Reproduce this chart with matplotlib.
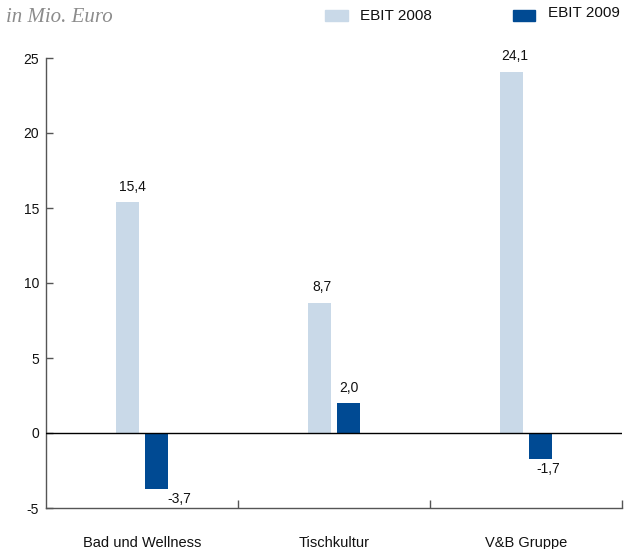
import numpy as np
import matplotlib
matplotlib.use('Agg')
import matplotlib.pyplot as plt
from matplotlib.patches import Rectangle

# EBIT by segment, in Mio. Euro
categories = ['Bad und Wellness', 'Tischkultur', 'V&B Gruppe']
ebit_2008 = [15.4, 8.7, 24.1]
ebit_2009 = [-3.7, 2.0, -1.7]
series_names = ['EBIT 2008', 'EBIT 2009']
y_ticks = [-5, 0, 5, 10, 15, 20, 25]

LIGHT = '#c9d9e8'
DARK = '#004a93'
AXIS_GREY = '#555555'

plt.rcParams['font.family'] = ['Liberation Sans', 'DejaVu Sans']
plt.rcParams['text.color'] = '#111111'
plt.rcParams['ytick.labelcolor'] = '#111111'
plt.rcParams['xtick.labelcolor'] = '#111111'

def fmt(v):
    return f"{v:.1f}".replace('.', ',')

fig = plt.figure(figsize=(6.29, 5.49), dpi=100)
ax = fig.add_axes([46/629, 1 - 508/549, 576/629, 450/549])

x = np.arange(len(categories))
w = 0.12
off = 0.076
bars08 = ax.bar(x - off, ebit_2008, w, color=LIGHT, zorder=2)
bars09 = ax.bar(x + off, ebit_2009, w, color=DARK, zorder=2)

ax.axhline(0, color='black', lw=1.0, zorder=3)

ax.set_xlim(-0.5, 2.5)
ax.set_ylim(-5, 25)

# value labels (small per-label nudges in px, as in the original)
nudge08 = [5.5, 3, 3.5]
nudge09 = [22.5, 0, 8]
for i, v in enumerate(ebit_2008):
    ax.annotate(fmt(v), (x[i] - off, v), xytext=(nudge08[i] * 0.72, 6),
                textcoords='offset points', ha='center', va='bottom', fontsize=10)
for i, v in enumerate(ebit_2009):
    if v >= 0:
        ax.annotate(fmt(v), (x[i] + off, v), xytext=(nudge09[i] * 0.72, 6),
                    textcoords='offset points', ha='center', va='bottom', fontsize=10)
    else:
        ax.annotate(fmt(v), (x[i] + off, v), xytext=(nudge09[i] * 0.72, -2.5),
                    textcoords='offset points', ha='center', va='top', fontsize=10)

# spines and ticks
for s in ['top', 'right']:
    ax.spines[s].set_visible(False)
for s in ['left', 'bottom']:
    ax.spines[s].set_color(AXIS_GREY)
    ax.spines[s].set_linewidth(1.0)

ax.set_yticks(y_ticks)
ax.set_yticklabels([str(t) for t in y_ticks])
ax.tick_params(axis='y', direction='in', length=5, width=1, color=AXIS_GREY,
               pad=5, labelsize=10)

ax.set_xticks(x)
ax.set_xticklabels(categories)
ax.tick_params(axis='x', which='major', length=0, pad=20, labelsize=10.5)
ax.set_xticks([0.5, 1.5, 2.5], minor=True)
ax.tick_params(axis='x', which='minor', direction='in', length=6, width=1,
               color=AXIS_GREY)

# header: unit and legend
fig.text(6/629, 1 - 17/549, 'in Mio. Euro', family='Liberation Serif',
         style='italic', color='#8c8c8c', fontsize=15, va='center', ha='left')

fig.patches.append(Rectangle((325/629, 1 - 21/549), 23/629, 11/549,
                             transform=fig.transFigure, color=LIGHT))
fig.text(360/629, 1 - 16/549, series_names[0], fontsize=11, va='center', ha='left')
fig.patches.append(Rectangle((513/629, 1 - 21/549), 22/629, 11/549,
                             transform=fig.transFigure, color=DARK))
fig.text(548/629, 1 - 13/549, series_names[1], fontsize=11, va='center', ha='left')

fig.savefig('out.png', dpi=100)
